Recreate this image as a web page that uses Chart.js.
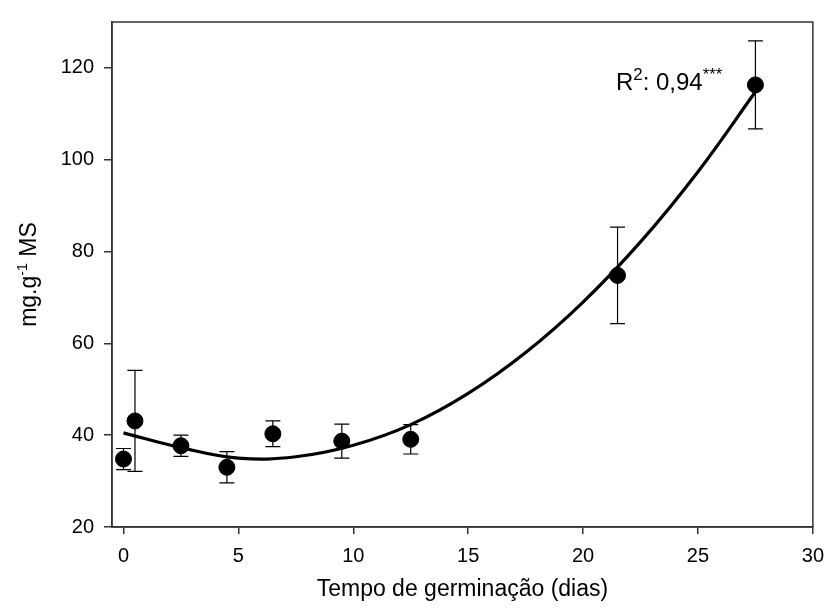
<!DOCTYPE html>
<html>
<head>
<meta charset="utf-8">
<script src="https://cdn.jsdelivr.net/npm/chart.js@4"></script>
<style>
  body { margin: 0; background: #fff; }
  canvas { display: block; }
</style>
</head>
<body>
<canvas id="grafico" width="834" height="612"></canvas>
<script>
// dados
const dias = [0, 0.5, 2.5, 4.5, 6.5, 9.5, 12.5, 21.5, 27.5];
const medias = [34.8, 43.1, 37.7, 33.0, 40.3, 38.7, 39.1, 74.8, 116.3];
const erros = [2.3, 11.0, 2.3, 3.4, 2.8, 3.7, 3.2, 10.5, 9.6];

// curva ajustada (pontos lidos sobre a linha)
const diasAjuste = [0, 2.5, 5, 7.5, 10, 12.5, 15, 17.5, 20, 22.5, 25, 27.5];
const valoresAjuste = [40.5, 37.3, 35.0, 35.3, 37.8, 42.3, 49.1, 58.0, 69.0, 82.1, 97.4, 114.8];

const ticksX = [0, 5, 10, 15, 20, 25, 30];
const ticksY = [20, 40, 60, 80, 100, 120];

const FONTE = '"Liberation Sans", Arial, sans-serif';
const COR_EIXO = '#333';

// desenha texto com partes sobrescritas, centrado em x
function textoRico(ctx, partes, x, y, tam, escala) {
    let total = 0;
    for (const p of partes) {
        ctx.font = (p.sup ? tam * escala : tam) + 'px ' + FONTE;
        p.w = ctx.measureText(p.t).width;
        total += p.w;
    }
    let cx = x - total / 2;
    for (const p of partes) {
        ctx.font = (p.sup ? tam * escala : tam) + 'px ' + FONTE;
        ctx.fillText(p.t, cx, p.sup ? y - tam * 0.4 : y);
        cx += p.w;
    }
    return total;
}

const barrasErro = {
    id: 'barrasErro',
    afterDatasetsDraw(chart) {
        const ctx = chart.ctx;
        const sx = chart.scales.x, sy = chart.scales.y;
        ctx.save();
        ctx.strokeStyle = '#000';
        ctx.lineWidth = 1.2;
        for (let i = 0; i < dias.length; i++) {
            const px = sx.getPixelForValue(dias[i]);
            const pTop = sy.getPixelForValue(medias[i] + erros[i]);
            const pBot = sy.getPixelForValue(medias[i] - erros[i]);
            ctx.beginPath();
            ctx.moveTo(px, pTop); ctx.lineTo(px, pBot);
            ctx.moveTo(px - 7.5, pTop); ctx.lineTo(px + 7.5, pTop);
            ctx.moveTo(px - 7.5, pBot); ctx.lineTo(px + 7.5, pBot);
            ctx.stroke();
        }
        ctx.restore();
    }
};

const moldura = {
    id: 'moldura',
    afterDraw(chart) {
        const ctx = chart.ctx;
        const a = chart.chartArea;
        ctx.save();
        ctx.strokeStyle = COR_EIXO;
        ctx.lineWidth = 1.5;
        ctx.strokeRect(a.left, a.top, a.right - a.left, a.bottom - a.top);

        ctx.fillStyle = '#000';
        ctx.textBaseline = 'alphabetic';
        ctx.textAlign = 'left';
        // titulo eixo x
        textoRico(ctx, [{ t: 'Tempo de germinação (dias)' }], (a.left + a.right) / 2, 596, 23, 1);

        // titulo eixo y
        ctx.save();
        ctx.translate(36, (a.top + a.bottom) / 2);
        ctx.rotate(-Math.PI / 2);
        textoRico(ctx, [{ t: 'mg.g' }, { t: '-1', sup: true }, { t: ' MS' }], 0, 0, 23, 0.62);
        ctx.restore();

        // R2
        const partes = [{ t: 'R' }, { t: '2', sup: true }, { t: ': 0,94' }, { t: '***', sup: true }];
        let largura = 0;
        for (const p of partes) {
            ctx.font = (p.sup ? 24 * 0.7 : 24) + 'px ' + FONTE;
            largura += ctx.measureText(p.t).width;
        }
        textoRico(ctx, partes, 616 + largura / 2, 90, 24, 0.7);
        ctx.restore();
    }
};

new Chart(document.getElementById('grafico'), {
    type: 'scatter',
    data: {
        datasets: [
            {
                label: 'médias',
                data: dias.map((d, i) => ({ x: d, y: medias[i] })),
                backgroundColor: '#000',
                borderColor: '#000',
                pointRadius: 8,
                pointHoverRadius: 8
            },
            {
                label: 'ajuste',
                data: diasAjuste.map((d, i) => ({ x: d, y: valoresAjuste[i] })),
                showLine: true,
                tension: 0.4,
                borderColor: '#000',
                borderWidth: 3.2,
                pointRadius: 0,
                fill: false
            }
        ]
    },
    options: {
        responsive: false,
        animation: false,
        layout: { padding: { left: 0, top: 16, right: 13, bottom: 0 } },
        plugins: {
            legend: { display: false },
            tooltip: { enabled: false }
        },
        scales: {
            x: {
                type: 'linear',
                min: -0.5,
                max: 30,
                afterBuildTicks: (s) => { s.ticks = ticksX.map(v => ({ value: v })); },
                afterFit: (s) => { s.height = 85; },
                grid: { drawOnChartArea: false, drawTicks: true, tickLength: 7, color: COR_EIXO, lineWidth: 1.5 },
                border: { display: true, color: COR_EIXO, width: 1.5 },
                ticks: { color: '#000', font: { family: FONTE, size: 20 }, padding: 10, maxRotation: 0 }
            },
            y: {
                type: 'linear',
                min: 20,
                max: 130,
                afterBuildTicks: (s) => { s.ticks = ticksY.map(v => ({ value: v })); },
                afterFit: (s) => { s.width = 112; },
                grid: { drawOnChartArea: false, drawTicks: true, tickLength: 8, color: COR_EIXO, lineWidth: 1.5 },
                border: { display: true, color: COR_EIXO, width: 1.5 },
                ticks: { color: '#000', font: { family: FONTE, size: 20 }, padding: 10 }
            }
        }
    },
    plugins: [barrasErro, moldura]
});
</script>
</body>
</html>
